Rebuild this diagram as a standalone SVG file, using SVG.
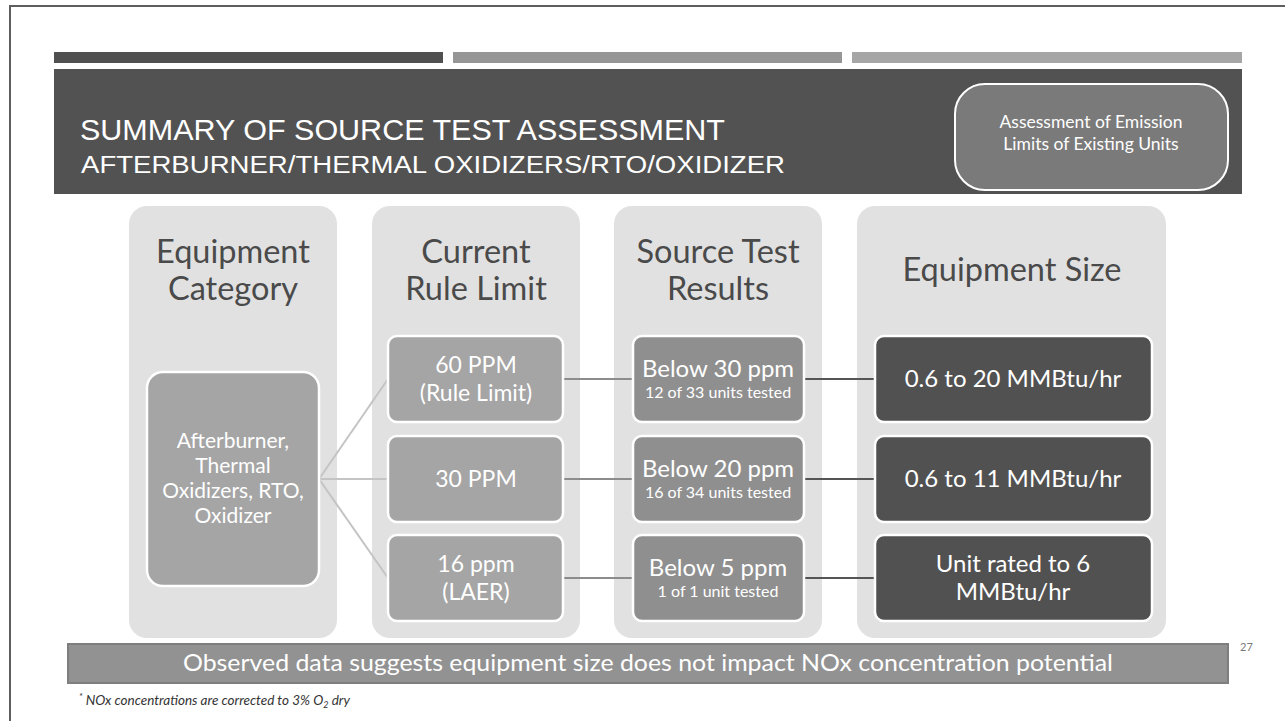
<svg xmlns="http://www.w3.org/2000/svg" width="1285" height="721" viewBox="0 0 1285 721">
<style>
.col{fill:#e1e1e1}
.box{stroke:#ffffff;stroke-width:2.5}
.eq{fill:#a5a5a5}
.rule{fill:#a5a5a5}
.src{fill:#8f8f8f}
.size{fill:#515151}
.hd{font-family:Lato,"Open Sans","Liberation Sans",sans-serif;font-size:32.5px;fill:#4a4a4a;text-anchor:middle}
.bt{font-family:Lato,"Open Sans","Liberation Sans",sans-serif;fill:#ffffff;text-anchor:middle}
.ttl{font-family:"Liberation Sans",Arial,sans-serif;fill:#ffffff}
</style>
<rect x="0" y="0" width="1285" height="721" fill="#ffffff"/>
<rect x="10" y="6" width="1290" height="730" fill="none" stroke="#5e5e5e" stroke-width="2"/>
<g id="top-bars">
<rect x="54" y="52" width="389" height="11" fill="#505050"/>
<rect x="453" y="52" width="389" height="11" fill="#969696"/>
<rect x="852" y="52" width="390" height="11" fill="#a6a6a6"/>
</g>
<g id="header">
<rect x="54" y="69" width="1188" height="125" fill="#525252"/>
<text class="ttl" x="80" y="140" font-size="29" textLength="645" lengthAdjust="spacingAndGlyphs">SUMMARY OF SOURCE TEST ASSESSMENT</text>
<text class="ttl" x="81" y="173" font-size="23" textLength="704" lengthAdjust="spacingAndGlyphs">AFTERBURNER/THERMAL OXIDIZERS/RTO/OXIDIZER</text>
</g>
<g id="assessment-box">
<rect x="955" y="84" width="273" height="106" rx="30" fill="#7a7a7a" stroke="#ffffff" stroke-width="2"/>
<text class="bt" x="1091" y="128" font-size="17.5">Assessment of Emission</text>
<text class="bt" x="1091" y="150" font-size="17.5">Limits of Existing Units</text>
</g>
<g id="columns">
<rect class="col" x="129" y="206" width="208" height="432" rx="18"/>
<rect class="col" x="372" y="206" width="208" height="432" rx="18"/>
<rect class="col" x="614" y="206" width="208" height="432" rx="18"/>
<rect class="col" x="857" y="206" width="309" height="432" rx="18"/>
</g>
<g id="headings">
<text class="hd" x="233" y="263">Equipment</text>
<text class="hd" x="233" y="300">Category</text>
<text class="hd" x="476" y="263">Current</text>
<text class="hd" x="476" y="300">Rule Limit</text>
<text class="hd" x="718" y="263">Source Test</text>
<text class="hd" x="718" y="300">Results</text>
<text class="hd" x="1012" y="281" font-size="33">Equipment Size</text>
</g>
<g id="connectors" fill="none" stroke-width="2">
<line x1="319" y1="479" x2="388" y2="379" stroke="#c4c4c4"/>
<line x1="319" y1="479" x2="388" y2="479" stroke="#c4c4c4"/>
<line x1="319" y1="479" x2="388" y2="578" stroke="#c4c4c4"/>
<line x1="563" y1="379" x2="633" y2="379" stroke="#8c8c8c"/>
<line x1="563" y1="479" x2="633" y2="479" stroke="#8c8c8c"/>
<line x1="563" y1="578" x2="633" y2="578" stroke="#8c8c8c"/>
<line x1="804" y1="379" x2="875" y2="379" stroke="#555555"/>
<line x1="804" y1="479" x2="875" y2="479" stroke="#555555"/>
<line x1="804" y1="578" x2="875" y2="578" stroke="#555555"/>
</g>
<g id="node-equipment">
<rect class="box eq" x="147" y="372" width="172" height="214" rx="16"/>
<text class="bt" x="233" y="448" font-size="21">Afterburner,</text>
<text class="bt" x="233" y="473" font-size="21">Thermal</text>
<text class="bt" x="233" y="498" font-size="21">Oxidizers, RTO,</text>
<text class="bt" x="233" y="523" font-size="21">Oxidizer</text>
</g>
<g id="node-rule-60">
<rect class="box rule" x="388" y="336" width="175" height="86" rx="9"/>
<text class="bt" x="476" y="373" font-size="23">60 PPM</text>
<text class="bt" x="476" y="401" font-size="23">(Rule Limit)</text>
</g>
<g id="node-rule-30">
<rect class="box rule" x="388" y="436" width="175" height="86" rx="9"/>
<text class="bt" x="476" y="487" font-size="23">30 PPM</text>
</g>
<g id="node-rule-16">
<rect class="box rule" x="388" y="535" width="175" height="86" rx="9"/>
<text class="bt" x="476" y="572" font-size="23">16 ppm</text>
<text class="bt" x="476" y="600" font-size="23">(LAER)</text>
</g>
<g id="node-src-30">
<rect class="box src" x="633" y="336" width="171" height="86" rx="9"/>
<text class="bt" x="718" y="377" font-size="24">Below 30 ppm</text>
<text class="bt" x="718" y="398" font-size="16">12 of 33 units tested</text>
</g>
<g id="node-src-20">
<rect class="box src" x="633" y="436" width="171" height="86" rx="9"/>
<text class="bt" x="718" y="477" font-size="24">Below 20 ppm</text>
<text class="bt" x="718" y="498" font-size="16">16 of 34 units tested</text>
</g>
<g id="node-src-5">
<rect class="box src" x="633" y="535" width="171" height="86" rx="9"/>
<text class="bt" x="718" y="576" font-size="24">Below 5 ppm</text>
<text class="bt" x="718" y="597" font-size="16">1 of 1 unit tested</text>
</g>
<g id="node-size-20">
<rect class="box size" x="875" y="336" width="277" height="86" rx="9"/>
<text class="bt" x="1013" y="387" font-size="24">0.6 to 20 MMBtu/hr</text>
</g>
<g id="node-size-11">
<rect class="box size" x="875" y="436" width="277" height="86" rx="9"/>
<text class="bt" x="1013" y="487" font-size="24">0.6 to 11 MMBtu/hr</text>
</g>
<g id="node-size-6">
<rect class="box size" x="875" y="535" width="277" height="86" rx="9"/>
<text class="bt" x="1013" y="572" font-size="24">Unit rated to 6</text>
<text class="bt" x="1013" y="600" font-size="24">MMBtu/hr</text>
</g>
<g id="banner">
<rect x="68" y="644" width="1160" height="39" fill="#929292" stroke="#7e7e7e" stroke-width="2"/>
<text class="bt" x="648" y="671" font-size="23" textLength="930" lengthAdjust="spacingAndGlyphs">Observed data suggests equipment size does not impact NOx concentration potential</text>
</g>
<text x="1240" y="651" font-family="Lato,'Liberation Sans',sans-serif" font-size="11" fill="#7a7a7a">27</text>
<text x="79" y="705" font-family="Lato,'Liberation Sans',sans-serif" font-size="13.5" font-style="italic" fill="#333333"><tspan font-size="9" dy="-5">*</tspan><tspan dy="5"> NOx concentrations are corrected to 3% O</tspan><tspan font-size="9" dy="3">2</tspan><tspan dy="-3"> dry</tspan></text>
</svg>
